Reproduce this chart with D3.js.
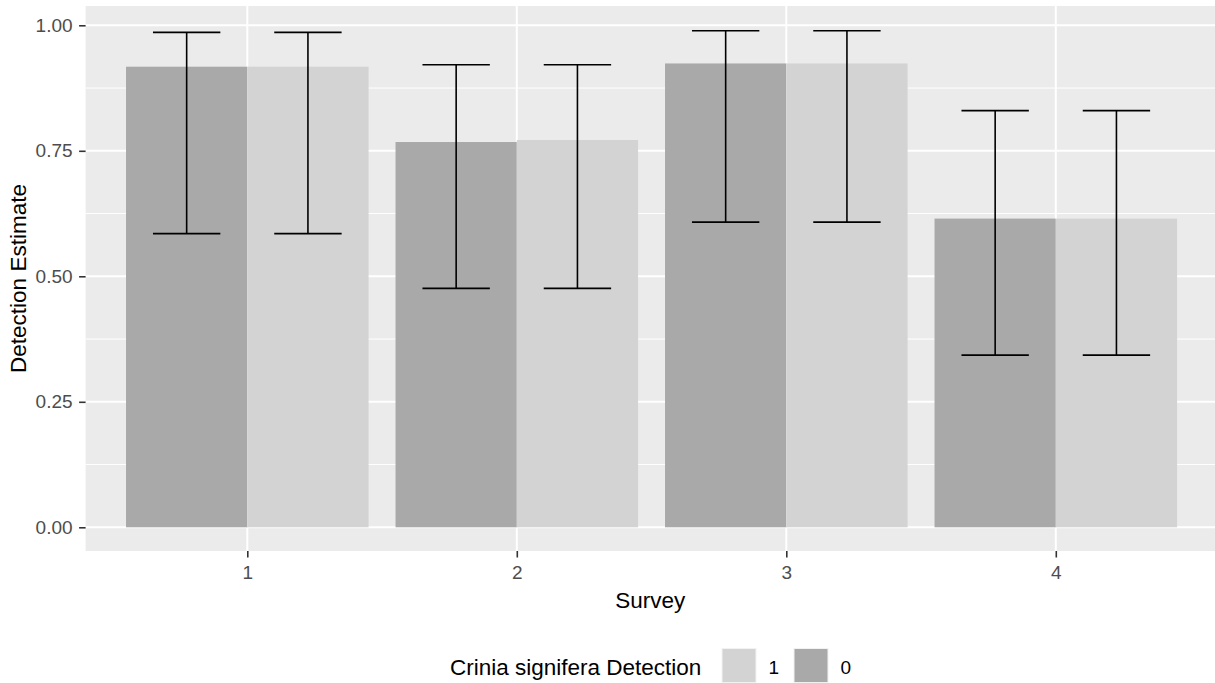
<!DOCTYPE html>
<html>
<head>
<meta charset="utf-8">
<script src="https://cdn.jsdelivr.net/npm/d3@7/dist/d3.min.js"></script>
<style>
  html, body { margin: 0; padding: 0; background: #fff; }
  svg { display: block; font-family: "Liberation Sans", Arial, sans-serif; }
</style>
</head>
<body>
<svg id="chart" width="1215" height="683"></svg>
<script>
// Detection estimates per survey, split by Crinia signifera detection (0 / 1)
const surveys = ["1", "2", "3", "4"];
const groups = ["0", "1"];                       // dodge order: 0 left, 1 right
const estimate0 = [0.9175, 0.7675, 0.924, 0.615];
const estimate1 = [0.9175, 0.7715, 0.924, 0.615];
const lower0 = [0.585, 0.476, 0.608, 0.343];
const upper0 = [0.986, 0.9215, 0.989, 0.830];
const lower1 = [0.585, 0.476, 0.608, 0.343];
const upper1 = [0.986, 0.9215, 0.989, 0.830];
const yTicks = [0, 0.25, 0.5, 0.75, 1.0];
const legendOrder = ["1", "0"];

const rows = [];
surveys.forEach((s, i) => {
  rows.push({ survey: s, group: "0", value: estimate0[i], lo: lower0[i], hi: upper0[i] });
  rows.push({ survey: s, group: "1", value: estimate1[i], lo: lower1[i], hi: upper1[i] });
});

const fills = { "0": "#A9A9A9", "1": "#D3D3D3" };

const svg = d3.select("#chart");
const panel = { left: 85.6, right: 1215, top: 6, bottom: 551 };

// discrete x positions 1..4 with ggplot-style 0.6 expansion
const x = d3.scaleLinear().domain([0.4, 4.6]).range([85.6, 1217.5]);
const unit = x(2) - x(1);
const y = d3.scaleLinear().domain([0, 1]).range([527.3, 25.3]);

// panel background
svg.append("rect")
  .attr("x", panel.left).attr("y", panel.top)
  .attr("width", panel.right - panel.left).attr("height", panel.bottom - panel.top)
  .attr("fill", "#EBEBEB");

// minor gridlines
const minor = [0.125, 0.375, 0.625, 0.875];
svg.append("g").selectAll("line").data(minor).join("line")
  .attr("x1", panel.left).attr("x2", panel.right)
  .attr("y1", d => y(d)).attr("y2", d => y(d))
  .attr("stroke", "#fff").attr("stroke-width", 1);

// major gridlines
svg.append("g").selectAll("line").data(yTicks).join("line")
  .attr("x1", panel.left).attr("x2", panel.right)
  .attr("y1", d => y(d)).attr("y2", d => y(d))
  .attr("stroke", "#fff").attr("stroke-width", 2);
svg.append("g").selectAll("line").data(surveys).join("line")
  .attr("x1", (d, i) => x(i + 1)).attr("x2", (d, i) => x(i + 1))
  .attr("y1", panel.top).attr("y2", panel.bottom)
  .attr("stroke", "#fff").attr("stroke-width", 2);

// bars (width 0.9, dodged)
const barW = 0.9 * unit / 2;
const xOf = r => x(surveys.indexOf(r.survey) + 1) + (r.group === "0" ? -barW : 0);
svg.append("g").selectAll("rect").data(rows).join("rect")
  .attr("x", xOf)
  .attr("y", d => y(d.value))
  .attr("width", barW)
  .attr("height", d => y(0) - y(d.value))
  .attr("fill", d => fills[d.group]);

// error bars
const capW = 0.25 * unit;
const eb = svg.append("g").attr("stroke", "#000").attr("stroke-width", 1.6).attr("fill", "none");
rows.forEach(r => {
  const cx = xOf(r) + barW / 2;
  eb.append("line").attr("x1", cx).attr("x2", cx).attr("y1", y(r.hi)).attr("y2", y(r.lo));
  eb.append("line").attr("x1", cx - capW / 2).attr("x2", cx + capW / 2).attr("y1", y(r.hi)).attr("y2", y(r.hi));
  eb.append("line").attr("x1", cx - capW / 2).attr("x2", cx + capW / 2).attr("y1", y(r.lo)).attr("y2", y(r.lo));
});

// y axis
const yAxis = svg.append("g").attr("transform", `translate(${panel.left},0)`)
  .call(d3.axisLeft(y).tickValues(yTicks).tickFormat(d3.format(".2f")).tickSize(6.5).tickPadding(6.5));
yAxis.select(".domain").remove();
yAxis.selectAll(".tick line").attr("stroke", "#333").attr("stroke-width", 1.6);
yAxis.selectAll(".tick text").attr("fill", "#4D4D4D").style("font-size", "19px")
  .style("font-family", "'Liberation Sans', Arial, sans-serif");

// x axis
const xAxis = svg.append("g").attr("transform", `translate(0,${panel.bottom})`)
  .call(d3.axisBottom(x).tickValues([1, 2, 3, 4]).tickFormat((d) => surveys[d - 1]).tickSize(6.5).tickPadding(8));
xAxis.select(".domain").remove();
xAxis.selectAll(".tick line").attr("stroke", "#333").attr("stroke-width", 1.6);
xAxis.selectAll(".tick text").attr("fill", "#4D4D4D").style("font-size", "19px")
  .style("font-family", "'Liberation Sans', Arial, sans-serif");

// axis titles
svg.append("text").attr("x", (panel.left + panel.right) / 2).attr("y", 608)
  .attr("text-anchor", "middle").attr("fill", "#000").style("font-size", "22.5px").text("Survey");
svg.append("text")
  .attr("transform", `translate(26,${(panel.top + panel.bottom) / 2}) rotate(-90)`)
  .attr("text-anchor", "middle").attr("fill", "#000").style("font-size", "22.5px").text("Detection Estimate");

// legend
const lg = svg.append("g");
lg.append("text").attr("x", 450).attr("y", 675).attr("fill", "#000")
  .style("font-size", "22.5px").text("Crinia signifera Detection");
const keyX = [721.5, 793.5];
legendOrder.forEach((g, i) => {
  lg.append("rect").attr("x", keyX[i]).attr("y", 648).attr("width", 35).attr("height", 35).attr("fill", "#F2F2F2");
  lg.append("rect").attr("x", keyX[i] + 1).attr("y", 649).attr("width", 33).attr("height", 33).attr("fill", fills[g]);
  lg.append("text").attr("x", keyX[i] + 47).attr("y", 674).attr("fill", "#000")
    .style("font-size", "19px").text(g);
});
</script>
</body>
</html>
